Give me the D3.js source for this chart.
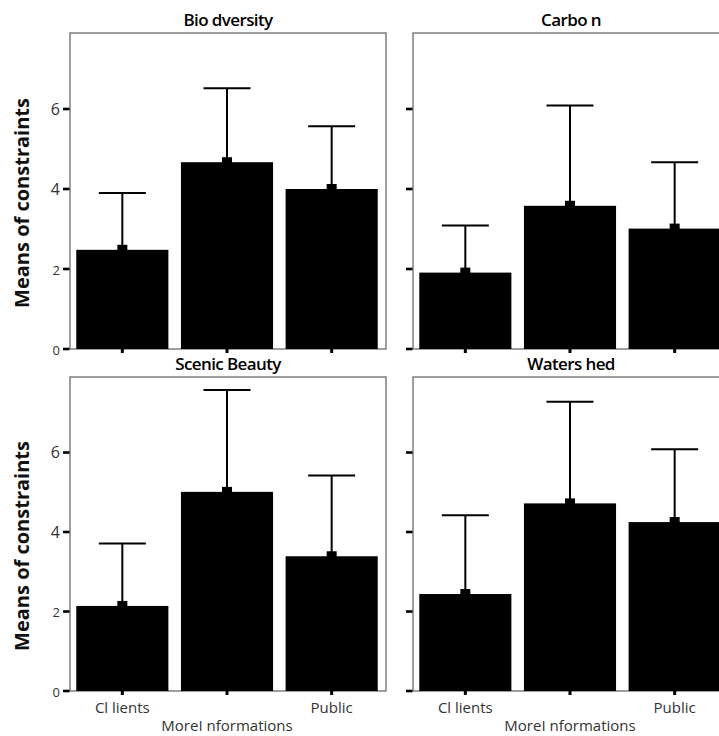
<!DOCTYPE html>
<html>
<head>
<meta charset="utf-8">
<script src="https://cdn.jsdelivr.net/npm/d3@7"></script>
<style>
  body { margin: 0; background: #fff; }
  svg { display: block; overflow: hidden; }
  text { font-family: "Open Sans", "Noto Sans", sans-serif; }
</style>
</head>
<body>
<svg id="chart" width="719" height="736"></svg>
<script>
// data
var panels = ["Bio dversity", "Carbo n", "Scenic Beauty", "Waters hed"];
var categories = ["Cl lients", "MoreI nformations", "Public"];
var yTicks = [0, 2, 4, 6];

var bioMean = [2.48, 4.67, 4.0];
var bioUpper = [3.9, 6.52, 5.57];
var carbonMean = [1.91, 3.58, 3.01];
var carbonUpper = [3.09, 6.09, 4.67];
var scenicMean = [2.14, 5.01, 3.39];
var scenicUpper = [3.71, 7.57, 5.42];
var waterMean = [2.44, 4.72, 4.25];
var waterUpper = [4.42, 7.28, 6.08];

var means = [bioMean, carbonMean, scenicMean, waterMean];
var uppers = [bioUpper, carbonUpper, scenicUpper, waterUpper];

var svg = d3.select("#chart");

var pw = 316,
    lefts = [70, 413, 70, 413],
    tops = [33, 33, 377, 377],
    ph = [316, 316, 314, 314];

var x = d3.scaleBand()
    .domain(categories)
    .range([0, 314])
    .paddingInner(0.12)
    .paddingOuter(0.06);

panels.forEach(function (name, i) {
    var g = svg.append("g")
        .attr("transform", "translate(" + lefts[i] + "," + tops[i] + ")");

    var y = d3.scaleLinear()
        .domain([0, 7.9])
        .range([ph[i], 0]);

    var rows = categories.map(function (c, j) {
        return {cat: c, mean: means[i][j], up: uppers[i][j]};
    });

    // frame
    g.append("rect")
        .attr("x", 0).attr("y", 0)
        .attr("width", pw).attr("height", ph[i])
        .attr("fill", "none")
        .attr("stroke", "#6b6b6b")
        .attr("stroke-width", 1.3);

    // error bars
    g.selectAll(".err")
        .data(rows)
        .enter()
        .append("line")
        .attr("x1", d => x(d.cat) + x.bandwidth() / 2)
        .attr("x2", d => x(d.cat) + x.bandwidth() / 2)
        .attr("y1", d => y(d.mean))
        .attr("y2", d => y(d.up))
        .attr("stroke", "#000")
        .attr("stroke-width", 2);

    g.selectAll(".cap")
        .data(rows)
        .enter()
        .append("line")
        .attr("x1", d => x(d.cat) + x.bandwidth() / 2 - 23.5)
        .attr("x2", d => x(d.cat) + x.bandwidth() / 2 + 23.5)
        .attr("y1", d => y(d.up))
        .attr("y2", d => y(d.up))
        .attr("stroke", "#000")
        .attr("stroke-width", 2);

    // bars
    g.selectAll(".bar")
        .data(rows)
        .enter()
        .append("rect")
        .attr("x", d => x(d.cat))
        .attr("y", d => y(d.mean))
        .attr("width", x.bandwidth())
        .attr("height", d => y(0) - y(d.mean))
        .attr("fill", "#000");

    // small mean marker on top of each bar
    g.selectAll(".mark")
        .data(rows)
        .enter()
        .append("rect")
        .attr("x", d => x(d.cat) + x.bandwidth() / 2 - 5)
        .attr("y", d => y(d.mean) - 5)
        .attr("width", 10)
        .attr("height", 6)
        .attr("fill", "#000");

    // y ticks
    g.selectAll(".ytick")
        .data(yTicks)
        .enter()
        .append("rect")
        .attr("x", -7)
        .attr("y", d => y(d) - 1.3)
        .attr("width", 6.5)
        .attr("height", 2.6)
        .attr("fill", "#000");

    if (i % 2 === 0) {
        g.selectAll(".ylab")
            .data(yTicks)
            .enter()
            .append("text")
            .attr("x", -10)
            .attr("y", d => y(d))
            .attr("dy", d => d < 4 ? "0.45em" : "0.37em")
            .attr("text-anchor", "end")
            .attr("fill", "#333")
            .style("font-size", d => d < 4 ? "13px" : "16px")
            .text(d => d);

        g.append("text")
            .attr("transform", "rotate(-90)")
            .attr("x", -(ph[i] / 2 + 12))
            .attr("y", -41)
            .attr("text-anchor", "middle")
            .attr("fill", "#111")
            .style("font-size", "20px")
            .style("font-weight", "bold")
            .text("Means of constraints");
    }

    // x ticks
    g.selectAll(".xtick")
        .data(categories)
        .enter()
        .append("rect")
        .attr("x", d => x(d) + x.bandwidth() / 2 - 1.5)
        .attr("y", ph[i])
        .attr("width", 3)
        .attr("height", 4)
        .attr("fill", "#000");

    // panel title
    g.append("text")
        .attr("x", pw / 2)
        .attr("y", -7)
        .attr("text-anchor", "middle")
        .attr("fill", "#000")
        .style("font-size", "17px")
        .style("font-weight", "600")
        .style("letter-spacing", "-0.6px")
        .text(name);

    // staggered category labels in the bottom row
    if (i >= 2) {
        g.selectAll(".xlab")
            .data(categories)
            .enter()
            .append("text")
            .attr("x", d => x(d) + x.bandwidth() / 2)
            .attr("y", (d, j) => ph[i] + (j === 1 ? 40 : 22))
            .attr("text-anchor", "middle")
            .attr("fill", "#333")
            .style("font-size", "15px")
            .text(d => d);
    }
});
</script>
</body>
</html>
